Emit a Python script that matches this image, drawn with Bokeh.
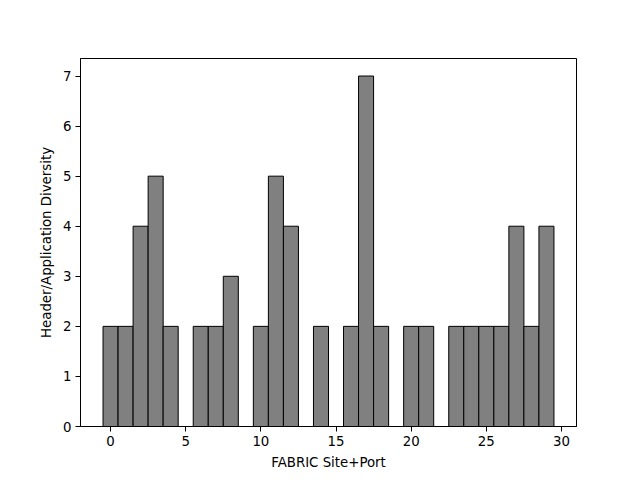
from bokeh.plotting import figure
from bokeh.models import Range1d, FixedTicker
from bokeh.embed import file_html
from bokeh.resources import INLINE

sites = list(range(30))
diversity = [2, 2, 4, 5, 2, 0, 2, 2, 3, 0, 2, 5, 4, 0, 2, 0, 2, 7, 2, 0,
             2, 2, 0, 2, 2, 2, 2, 4, 2, 4]
x_ticks = [0, 5, 10, 15, 20, 25, 30]
y_ticks = [0, 1, 2, 3, 4, 5, 6, 7]

p = figure(width=632, height=472, output_backend="svg", toolbar_location=None,
           x_range=Range1d(-2, 31), y_range=Range1d(0, 7.35),
           min_border_left=80, min_border_right=56, min_border_top=58, min_border_bottom=45)

p.vbar(x=sites, top=diversity, width=1.0, fill_color="#808080", line_color="black", line_width=1)

p.xgrid.visible = False
p.ygrid.visible = False
p.outline_line_color = "black"
p.outline_line_alpha = 1
p.outline_line_width = 1

p.xaxis.ticker = FixedTicker(ticks=x_ticks)
p.yaxis.ticker = FixedTicker(ticks=y_ticks)
p.xaxis.axis_label = "FABRIC Site+Port"
p.yaxis.axis_label = "Header/Application Diversity"
for ax in (p.xaxis, p.yaxis):
    ax.major_tick_out = 5
    ax.major_tick_in = 0
    ax.minor_tick_out = 0
    ax.minor_tick_in = 0
    ax.axis_line_color = "black"
    ax.major_tick_line_color = "black"
    ax.major_label_text_font = "DejaVu Sans"
    ax.major_label_text_font_size = "10pt"
    ax.major_label_text_color = "black"
    ax.axis_label_text_font = "DejaVu Sans"
    ax.axis_label_text_font_size = "10pt"
    ax.axis_label_text_font_style = "normal"
    ax.axis_label_text_color = "black"
    ax.axis_label_standoff = 6
    ax.major_label_standoff = 4

open("out.html", "w").write(file_html(p, INLINE))
